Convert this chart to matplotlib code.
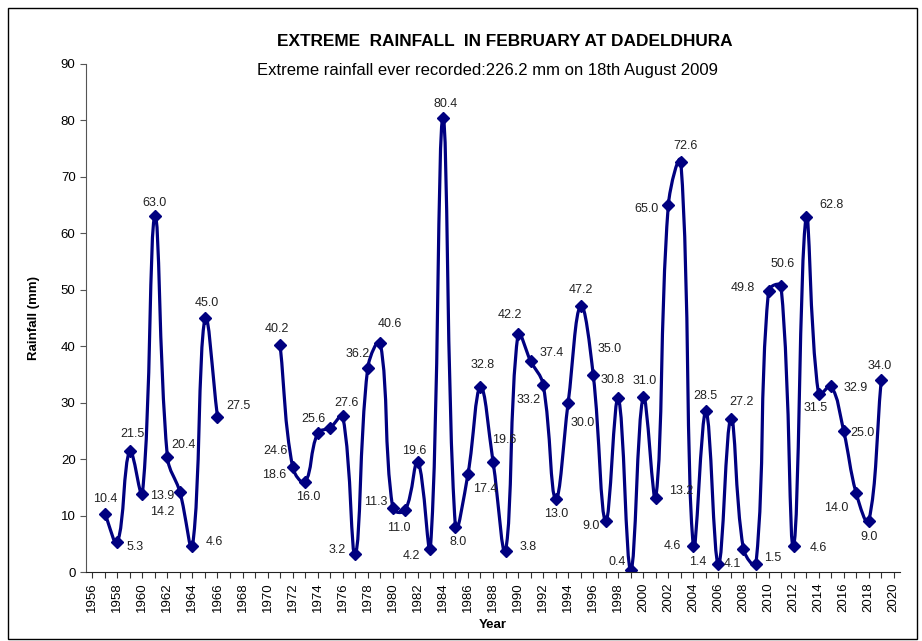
import numpy as np
import matplotlib
matplotlib.use("Agg")
import matplotlib.pyplot as plt
from matplotlib.path import Path
from matplotlib.patches import PathPatch, Rectangle

plt.rcParams['font.family'] = ['Liberation Sans', 'DejaVu Sans']

# ---- data ----
years_a = [1957, 1958, 1959, 1960, 1961, 1962, 1963, 1964, 1965, 1966]
rain_a = [10.4, 5.3, 21.5, 13.9, 63.0, 20.4, 14.2, 4.6, 45.0, 27.5]
years_b = list(range(1971, 2020))
rain_b = [40.2, 18.6, 16.0, 24.6, 25.6, 27.6, 3.2, 36.2, 40.6, 11.3,
          11.0, 19.6, 4.2, 80.4, 8.0, 17.4, 32.8, 19.6, 3.8, 42.2,
          37.4, 33.2, 13.0, 30.0, 47.2, 35.0, 9.0, 30.8, 0.4, 31.0,
          13.2, 65.0, 72.6, 4.6, 28.5, 1.4, 27.2, 4.1, 1.5, 49.8,
          50.6, 4.6, 62.8, 31.5, 32.9, 25.0, 14.0, 9.0, 34.0]

title = "EXTREME  RAINFALL  IN FEBRUARY AT DADELDHURA"
subtitle = "Extreme rainfall ever recorded:226.2 mm on 18th August 2009"

# label offsets in pixels (dx, dy up) -- layout only
offs_a = [(0, 15), (18, -5), (3, 17), (20, -2), (0, 13), (16, 12), (-18, -20),
          (22, 4), (2, 15), (21, 11)]
offs_b = [(-3, 16), (-18, -8), (3, -15), (-42, -18), (-17, 9), (4, 13), (-18, 4),
          (-10, 14), (10, 19), (-17, 6), (-7, -18), (-4, 11), (-19, -7), (3, 14),
          (3, -15), (17, -15), (2, 22), (11, 22), (23, 4), (-8, 19), (21, 8),
          (-14, -15), (1, -15), (15, -20), (0, 16), (16, 26), (-15, -5), (-6, 18),
          (-14, 8), (1, 16), (25, 7), (-22, -4), (5, 16), (-21, 0), (-1, 15),
          (-21, 2), (11, 17), (-11, -15), (17, 6), (-26, 3), (2, 22), (25, -2),
          (25, 12), (-3, -14), (25, -2), (19, -2), (-20, -15), (0, -16), (-2, 14)]

W, H = 922, 641
fig = plt.figure(figsize=(W / 100, H / 100), dpi=100)
ax = fig.add_axes([86 / W, (H - 572.3) / H, (900 - 86) / W, (572.3 - 63.7) / H])
ax.set_xlim(1955.5, 2020.5)
ax.set_ylim(0, 90)

color = '#000080'


def smooth_path(xs, ys):
    """Excel-like smoothed line: Bezier with tangents scaled by segment lengths (screen space)."""
    P = ax.transData.transform(np.column_stack([xs, ys]).astype(float))
    n = len(P)
    k = 0.4
    verts = [P[0]]
    codes = [Path.MOVETO]
    for i in range(n - 1):
        a = P[max(i - 1, 0)]
        b = P[i]
        c = P[i + 1]
        d = P[min(i + 2, n - 1)]
        t1 = c - a
        lp = np.linalg.norm(b - a)
        ln = np.linalg.norm(c - b)
        f1 = ln / (lp + ln) if (lp + ln) > 0 else 0.5
        c1 = b + t1 * f1 * k
        t2 = d - b
        lp2 = np.linalg.norm(c - b)
        ln2 = np.linalg.norm(d - c)
        f2 = lp2 / (lp2 + ln2) if (lp2 + ln2) > 0 else 0.5
        c2 = c - t2 * f2 * k
        verts += [c1, c2, c]
        codes += [Path.CURVE4] * 3
    V = ax.transData.inverted().transform(np.array(verts))
    return Path(V, codes)


for xs, ys, offs in [(years_a, rain_a, offs_a), (years_b, rain_b, offs_b)]:
    ax.add_patch(PathPatch(smooth_path(xs, ys), facecolor='none', edgecolor=color,
                           lw=2.3, capstyle='round', joinstyle='round'))
    ax.plot(xs, ys, linestyle='none', marker='D', ms=6, color=color, mec=color)
    for x, y, (dx, dy) in zip(xs, ys, offs):
        ax.annotate(f"{y:.1f}", (x, y), xytext=(dx, dy), textcoords='offset pixels',
                    ha='center', va='center', fontsize=9, color='#222222')

ax.set_yticks(range(0, 91, 10))
xt = list(range(1956, 2021))
ax.set_xticks(xt)
ax.set_xticklabels([str(y) if y % 2 == 0 else '' for y in xt], rotation=90, fontsize=9.5)
ax.tick_params(axis='y', labelsize=9.5, length=4, direction='out', color='#555555')
ax.tick_params(axis='x', length=4, direction='out', color='#333333', pad=3)
for s in ['top', 'right']:
    ax.spines[s].set_visible(False)
ax.spines['left'].set_color('#555555')
ax.spines['bottom'].set_color('#222222')
ax.set_facecolor('white')

ax.set_ylabel("Rainfall (mm)", fontsize=9.5, fontweight='bold', labelpad=15)
ax.set_xlabel("Year", fontsize=9.5, fontweight='bold', labelpad=5)

fig.text(505 / W, 1 - 42 / H, title, ha='center', va='center', fontsize=12.4, fontweight='bold')
fig.text(487 / W, 1 - 70 / H, subtitle, ha='center', va='center', fontsize=12)

fig.patches.append(Rectangle((8 / W, 2 / H), (917 - 8) / W, (633 - 2) / H, transform=fig.transFigure,
                             fill=False, edgecolor='black', lw=1))

fig.savefig("out.png", dpi=100)
